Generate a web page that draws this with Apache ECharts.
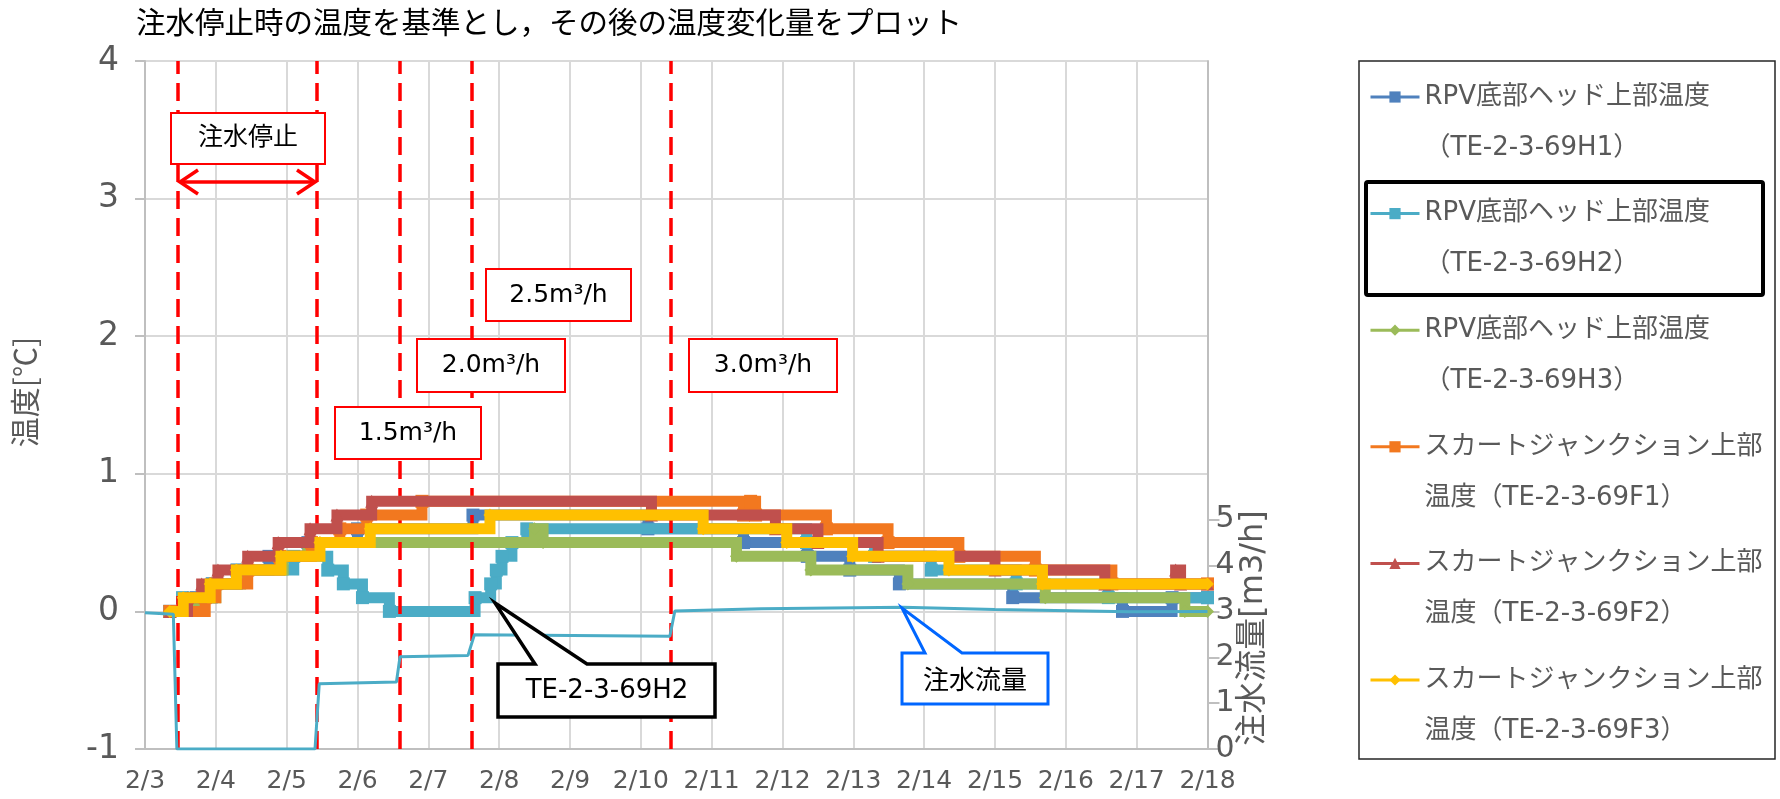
<!DOCTYPE html>
<html>
<head>
<meta charset="utf-8">
<script src="https://cdn.jsdelivr.net/npm/echarts@6/dist/echarts.min.js"></script>
<style>
  html, body { margin: 0; padding: 0; background: #fff; }
  #chart { width: 1780px; height: 799px; }
</style>
</head>
<body>
<div id="chart"></div>
<script>
// x = 2月の日付（小数は時刻），y = 注水停止時からの温度変化量 [℃]
const h1 = [[3.35,0],[3.72,0.1],[3.95,0.2],[4.3,0.3],[4.75,0.4],[5.3,0.5],[6.0,0.6],[7.63,0.7],[10.1,0.6],[11.45,0.5],[12.35,0.4],[12.95,0.3],[13.65,0.2],[15.25,0.1],[16.8,0],[17.5,0.1],[18,0.1]];
const h2 = [[3.35,0],[3.53,0.1],[3.95,0.2],[4.3,0.3],[5.1,0.4],[5.58,0.3],[5.8,0.2],[6.07,0.1],[6.45,0],[7.66,0.1],[7.88,0.2],[7.96,0.3],[8.04,0.4],[8.18,0.5],[8.39,0.6],[12.34,0.5],[13.3,0.4],[14.1,0.3],[15.3,0.2],[16.6,0.1],[18,0.1]];
const h3 = [[3.35,0],[3.7,0.1],[4.0,0.2],[4.35,0.3],[4.95,0.4],[5.3,0.5],[8.5,0.6],[8.62,0.5],[11.35,0.4],[12.4,0.3],[13.77,0.2],[15.71,0.1],[17.68,0],[18,0]];
const f1 = [[3.35,0],[3.85,0.1],[4.0,0.2],[4.45,0.3],[4.9,0.4],[5.35,0.5],[5.75,0.6],[6.13,0.7],[6.91,0.8],[11.45,0.7],[11.55,0.8],[11.62,0.7],[12.62,0.6],[13.49,0.5],[14.49,0.4],[15.57,0.3],[16.65,0.2],[18,0.2]];
const f2 = [[3.35,0],[3.6,0.1],[3.8,0.2],[4.03,0.3],[4.45,0.4],[4.88,0.5],[5.33,0.6],[5.71,0.7],[6.2,0.8],[10.15,0.7],[11.9,0.6],[12.5,0.5],[13.35,0.4],[15.0,0.3],[16.55,0.2],[17.55,0.3],[17.62,0.2],[18,0.2]];
const f3 = [[3.35,0],[3.54,0.1],[3.92,0.2],[4.29,0.3],[4.92,0.4],[5.47,0.5],[6.18,0.6],[7.87,0.7],[10.88,0.6],[12.06,0.5],[12.99,0.4],[14.35,0.3],[15.67,0.2],[18,0.2]];
// 注水流量 [m3/h]（右軸）
const flow = [[3,2.97],[3.4,2.94],[3.45,0],[5.4,0],[5.46,1.42],[6.55,1.46],[6.6,2.01],[7.56,2.04],[7.65,2.49],[10.41,2.46],[10.48,3.01],[11.7,3.06],[13.7,3.09],[15.0,3.04],[16.9,2.99],[18,3.0]];
// 流量変更のタイミング（赤破線）
const stopLines = [3.455, 5.433, 6.59, 7.607, 10.42];

const tempNames = [
  'RPV底部ヘッド上部温度\n（TE-2-3-69H1）',
  'RPV底部ヘッド上部温度\n（TE-2-3-69H2）',
  'RPV底部ヘッド上部温度\n（TE-2-3-69H3）',
  'スカートジャンクション上部\n温度（TE-2-3-69F1）',
  'スカートジャンクション上部\n温度（TE-2-3-69F2）',
  'スカートジャンクション上部\n温度（TE-2-3-69F3）'
];
const tempData = [h1, h2, h3, f1, f2, f3];
const tempColors = ['#4F81BD', '#4BACC6', '#9BBB59', '#F2781F', '#C0504D', '#FFC000'];
const tempSymbols = ['rect', 'rect', 'diamond', 'rect', 'triangle', 'diamond'];

const MIX = "'DejaVu Sans', 'Noto Sans CJK JP', sans-serif";
const JP = "'Noto Sans CJK JP', sans-serif";

const chart = echarts.init(document.getElementById('chart'));

const series = tempData.map((d, i) => ({
  name: tempNames[i],
  type: 'line',
  data: d,
  step: 'end',
  color: tempColors[i],
  symbol: tempSymbols[i],
  symbolSize: 13,
  showSymbol: true,
  lineStyle: { width: 11, join: 'miter', cap: 'butt' },
  z: 2 + i
}));

series.push({
  name: '注水流量',
  type: 'line',
  yAxisIndex: 1,
  data: flow,
  color: '#4BACC6',
  showSymbol: false,
  lineStyle: { width: 3 },
  z: 10,
  markLine: {
    silent: true,
    symbol: 'none',
    label: { show: false },
    lineStyle: { color: '#FF0000', type: [18, 9], width: 3.5 },
    data: stopLines.map(d => ({ xAxis: d }))
  }
});

function redBox(x, y, w, h, text) {
  return [
    { type: 'rect', z: 100, shape: { x: x, y: y, width: w, height: h },
      style: { fill: '#fff', stroke: '#FF0000', lineWidth: 2 } },
    { type: 'text', z: 101, x: x + w / 2, y: y + h / 2,
      style: { text: text, fontSize: 25, fontFamily: MIX, fill: '#000', align: 'center', verticalAlign: 'middle' } }
  ];
}

const graphics = [].concat(
  redBox(171, 113, 154, 51, '注水停止'),
  redBox(486, 269, 145, 52, '2.5m³/h'),
  redBox(417, 339, 148, 53, '2.0m³/h'),
  redBox(335, 407, 146, 52, '1.5m³/h'),
  redBox(689, 339, 148, 53, '3.0m³/h'),
  [
    // 注水停止期間の両矢印
    { type: 'line', z: 100, shape: { x1: 180, y1: 182, x2: 315, y2: 182 },
      style: { stroke: '#FF0000', lineWidth: 3.5 } },
    { type: 'polyline', z: 100, shape: { points: [[198, 170], [180, 182], [198, 194]] },
      style: { stroke: '#FF0000', lineWidth: 3.5, fill: null } },
    { type: 'polyline', z: 100, shape: { points: [[297, 170], [315, 182], [297, 194]] },
      style: { stroke: '#FF0000', lineWidth: 3.5, fill: null } },
    // 吹き出し TE-2-3-69H2
    { type: 'polygon', z: 100,
      shape: { points: [[498, 664], [535, 664], [495, 603], [587, 664], [715, 664], [715, 717], [498, 717]] },
      style: { fill: '#fff', stroke: '#000', lineWidth: 3.5, lineJoin: 'miter' } },
    { type: 'text', z: 101, x: 607, y: 691,
      style: { text: 'TE-2-3-69H2', fontSize: 26, fontFamily: MIX, fill: '#000', align: 'center', verticalAlign: 'middle' } },
    // 吹き出し 注水流量
    { type: 'polygon', z: 100,
      shape: { points: [[902, 653], [925, 653], [902, 608], [962, 653], [1048, 653], [1048, 704], [902, 704]] },
      style: { fill: '#fff', stroke: '#0066FF', lineWidth: 3, lineJoin: 'miter' } },
    { type: 'text', z: 101, x: 975, y: 679,
      style: { text: '注水流量', fontSize: 26, fontFamily: JP, fill: '#000', align: 'center', verticalAlign: 'middle' } },
    // 軸タイトル
    { type: 'text', z: 100, x: 25, y: 392, rotation: Math.PI / 2,
      style: { text: '温度[℃]', fontSize: 30, fontFamily: JP, fill: '#595959', align: 'center', verticalAlign: 'middle' } },
    { type: 'text', z: 100, x: 1254, y: 628, rotation: Math.PI / 2,
      style: { text: '注水流量[m3/h]', fontSize: 32, fontFamily: MIX, fill: '#595959', align: 'center', verticalAlign: 'middle' } },
    // 凡例枠と強調枠
    { type: 'rect', z: 1, shape: { x: 1359, y: 61, width: 416, height: 698 },
      style: { fill: 'none', stroke: '#262626', lineWidth: 1.5 } },
    { type: 'rect', z: 1, shape: { x: 1366, y: 182, width: 397, height: 113, r: 2 },
      style: { fill: 'none', stroke: '#000', lineWidth: 4 } }
  ]
);

const option = {
  animation: false,
  backgroundColor: '#fff',
  title: {
    text: '注水停止時の温度を基準とし，その後の温度変化量をプロット',
    left: 131,
    top: 2,
    textStyle: { fontSize: 29.5, fontWeight: 'normal', color: '#000', fontFamily: JP }
  },
  grid: { left: 145, right: 572.5, top: 61, bottom: 50 },
  legend: {
    orient: 'vertical',
    left: 1369,
    top: 20.5,
    padding: 0,
    itemGap: -36.4,
    itemWidth: 49,
    itemHeight: 14,
    data: tempNames,
    formatter: name => '\n' + name,
    lineStyle: { width: 3 },
    textStyle: { fontSize: 26, lineHeight: 51, color: '#595959', fontFamily: MIX }
  },
  xAxis: {
    type: 'value',
    min: 3,
    max: 18,
    interval: 1,
    axisLine: { onZero: false, lineStyle: { color: '#BFBFBF', width: 2 } },
    axisTick: { show: false },
    axisLabel: { formatter: v => '2/' + v, fontSize: 25, color: '#595959', margin: 20, fontFamily: MIX },
    splitLine: { show: true, lineStyle: { color: '#D9D9D9', width: 2 } }
  },
  yAxis: [
    {
      type: 'value',
      min: -1,
      max: 4,
      interval: 1,
      axisLine: { show: true, lineStyle: { color: '#BFBFBF', width: 2 } },
      axisTick: { show: true, length: 10, lineStyle: { color: '#BFBFBF', width: 2 } },
      axisLabel: { fontSize: 33, color: '#595959', margin: 26, fontFamily: MIX },
      splitLine: { show: true, lineStyle: { color: '#D9D9D9', width: 2 } }
    },
    {
      type: 'value',
      position: 'right',
      min: 0,
      max: 15,
      interval: 1,
      axisLine: { show: true, lineStyle: { color: '#BFBFBF', width: 2 } },
      axisTick: { show: true, length: 12, customValues: [0, 1, 2, 3, 4, 5], lineStyle: { color: '#BFBFBF', width: 2 } },
      axisLabel: { fontSize: 30, color: '#595959', margin: 8, fontFamily: MIX,
        customValues: [0, 1, 2, 3, 4, 5],
        formatter: v => (v <= 5 ? String(v) : '') },
      splitLine: { show: false }
    }
  ],
  graphic: graphics,
  series: series
};

chart.setOption(option);
</script>
</body>
</html>
